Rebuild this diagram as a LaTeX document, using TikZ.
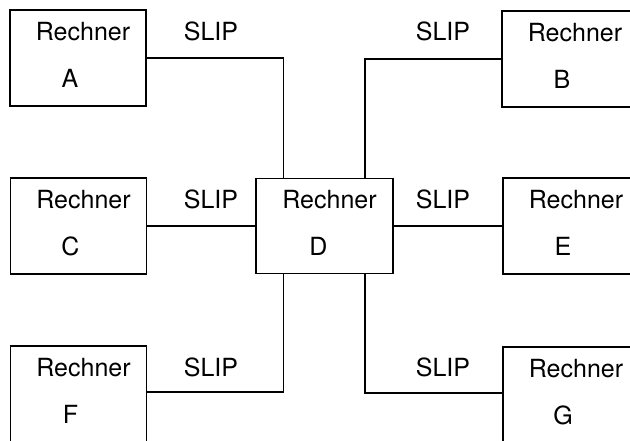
\documentclass[tikz,border=0pt]{standalone}
\usepackage{fontspec}
\setmainfont{TeX Gyre Heros}
\usetikzlibrary{calc}
\tikzset{
  rbox/.style={draw=black, line width=1.8pt, minimum width=136pt, minimum height=96pt, inner sep=0pt},
  lbl/.style={inner sep=0pt, text height=18pt, text depth=0pt, font=\fontsize{25}{30}\selectfont},
  conn/.style={draw=black, line width=1.6pt},
}
\newcommand{\rechnerbox}[4]{%
  \node[rbox] (#1) at (#2,#3) {};
  \node[lbl] (#1r) at ($(#1.center)+(5,-27)$) {Rechner};
  \node[lbl] (#1l) at ($(#1.center)+(-8,20)$) {#4};
}
\begin{document}
\begin{tikzpicture}[x=1pt,y=-1pt]
  \useasboundingbox (0,0) rectangle (630,440);
  \clip (0,0) rectangle (630,440);
  \fill[white] (0,0) rectangle (630,440);
  \rechnerbox{A}{78}{58}{A}
  \rechnerbox{B}{570}{59}{B}
  \rechnerbox{C}{78.5}{226}{C}
  \rechnerbox{E}{571}{226}{E}
  \rechnerbox{F}{78.5}{394}{F}
  \rechnerbox{G}{571}{395}{G}
  \node[rbox, minimum width=137pt, minimum height=95pt] (D) at (324.5,226) {};
  \node[lbl] (Dr) at ($(D.center)+(5,-27)$) {Rechner};
  \node[lbl] (Dl) at ($(D.center)+(-6,20)$) {D};
  % SLIP labels
  \node[lbl] (s1) at (211,31) {SLIP};
  \node[lbl] (s2) at (443,31) {SLIP};
  \node[lbl] (s3) at (211,199) {SLIP};
  \node[lbl] (s4) at (443,199) {SLIP};
  \node[lbl] (s5) at (211,367) {SLIP};
  \node[lbl] (s6) at (443,367) {SLIP};
  % connectors
  \draw[conn] (A.east) -| ([xshift=-41pt]D.north);
  \draw[conn] (B.west) -| ([xshift=40.5pt]D.north);
  \draw[conn] (C.east) -- (C.east -| D.west);
  \draw[conn] (D.east) -- (D.east -| E.west);
  \draw[conn] ([xshift=-41pt]D.south) |- ([yshift=2pt]F.east);
  \draw[conn] ([xshift=40.5pt]D.south) |- ([yshift=2pt]G.west);
\end{tikzpicture}
\end{document}
